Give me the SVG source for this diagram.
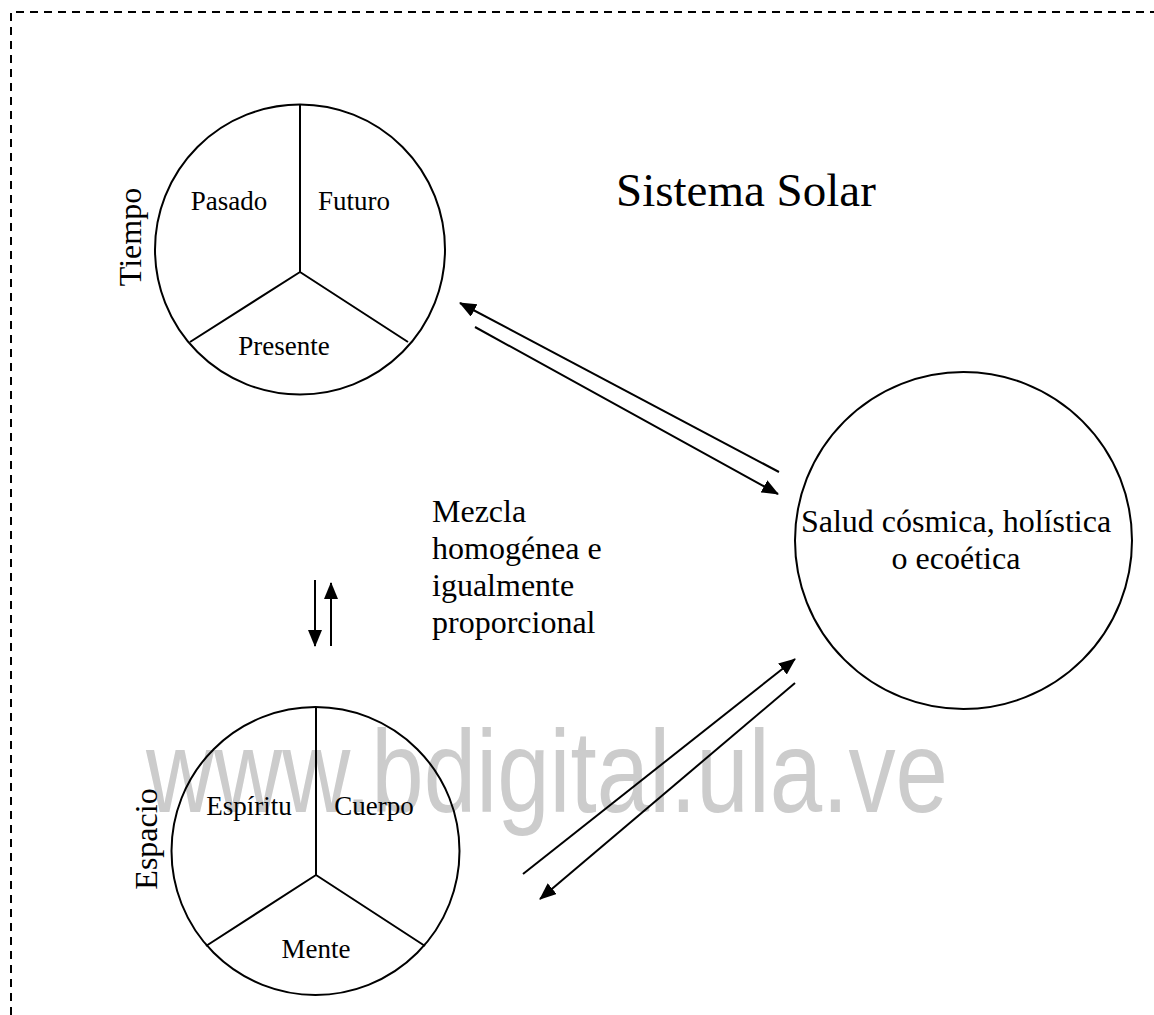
<svg xmlns="http://www.w3.org/2000/svg" width="1154" height="1015" viewBox="0 0 1154 1015">
  <style>
    .frame { fill: none; stroke: #000; stroke-width: 2; stroke-dasharray: 8 6; }
    .ring { fill: none; stroke: #000; stroke-width: 2; }
    .spoke { fill: none; stroke: #000; stroke-width: 2; }
    .conn { fill: none; stroke: #000; stroke-width: 2; marker-end: url(#head); }
    .lbl { font-family: "Liberation Serif", "Times New Roman", serif; fill: #000; }
    .sm { font-size: 27px; text-anchor: middle; }
    .md { font-size: 32px; }
    .mid { text-anchor: middle; }
    .wm { font-family: "Liberation Sans", Arial, sans-serif; font-size: 116px; fill: #cccccc; }
  </style>
  <defs>
    <marker id="head" markerUnits="userSpaceOnUse" markerWidth="18" markerHeight="15" refX="16" refY="7" orient="auto">
      <path d="M0,0 L17,7 L0,14 z" fill="#000"/>
    </marker>
  </defs>

  <rect width="1154" height="1015" fill="#fff"/>

  <!-- dashed page frame -->
  <path class="frame" d="M11,1015 V12 H1154"/>

  <!-- watermark -->
  <text class="wm" x="146" y="812" textLength="802" lengthAdjust="spacingAndGlyphs">www.bdigital.ula.ve</text>

  <!-- title -->
  <text class="lbl" x="616" y="206" font-size="47">Sistema Solar</text>

  <!-- Tiempo -->
  <g id="tiempo">
    <circle class="ring" cx="300" cy="249.5" r="145"/>
    <path class="spoke" d="M300,104.5 V272 M300,272 L190,342 M300,272 L408,342"/>
    <text class="lbl sm" x="229" y="210">Pasado</text>
    <text class="lbl sm" x="354" y="210">Futuro</text>
    <text class="lbl sm" x="284" y="355">Presente</text>
    <text class="lbl md mid" transform="translate(141,237) rotate(-90)">Tiempo</text>
  </g>

  <!-- Espacio -->
  <g id="espacio">
    <circle class="ring" cx="315.5" cy="851" r="144"/>
    <path class="spoke" d="M316,707 V875 M316,875 L206,946 M316,875 L425,946"/>
    <text class="lbl sm" x="249" y="815">Espíritu</text>
    <text class="lbl sm" x="374" y="815">Cuerpo</text>
    <text class="lbl sm" x="316" y="958">Mente</text>
    <text class="lbl md mid" transform="translate(157,839) rotate(-90)">Espacio</text>
  </g>

  <!-- Salud -->
  <g id="salud">
    <circle class="ring" cx="963.5" cy="540.5" r="168.5"/>
    <text class="lbl md mid" x="956" y="532">Salud cósmica, holística</text>
    <text class="lbl md mid" x="956" y="569">o ecoética</text>
  </g>

  <!-- mixing note -->
  <g id="mezcla">
    <text class="lbl md" x="432" y="522">Mezcla</text>
    <text class="lbl md" x="432" y="559">homogénea e</text>
    <text class="lbl md" x="432" y="596">igualmente</text>
    <text class="lbl md" x="432" y="633">proporcional</text>
  </g>

  <!-- connectors -->
  <g id="connectors">
    <line class="conn" x1="779" y1="472" x2="460" y2="303"/>
    <line class="conn" x1="475" y1="327" x2="778" y2="494"/>
    <line class="conn" x1="315" y1="580" x2="315" y2="646"/>
    <line class="conn" x1="331" y1="646" x2="331" y2="583"/>
    <line class="conn" x1="523" y1="874" x2="795" y2="659"/>
    <line class="conn" x1="795" y1="683" x2="540" y2="899"/>
  </g>
</svg>
